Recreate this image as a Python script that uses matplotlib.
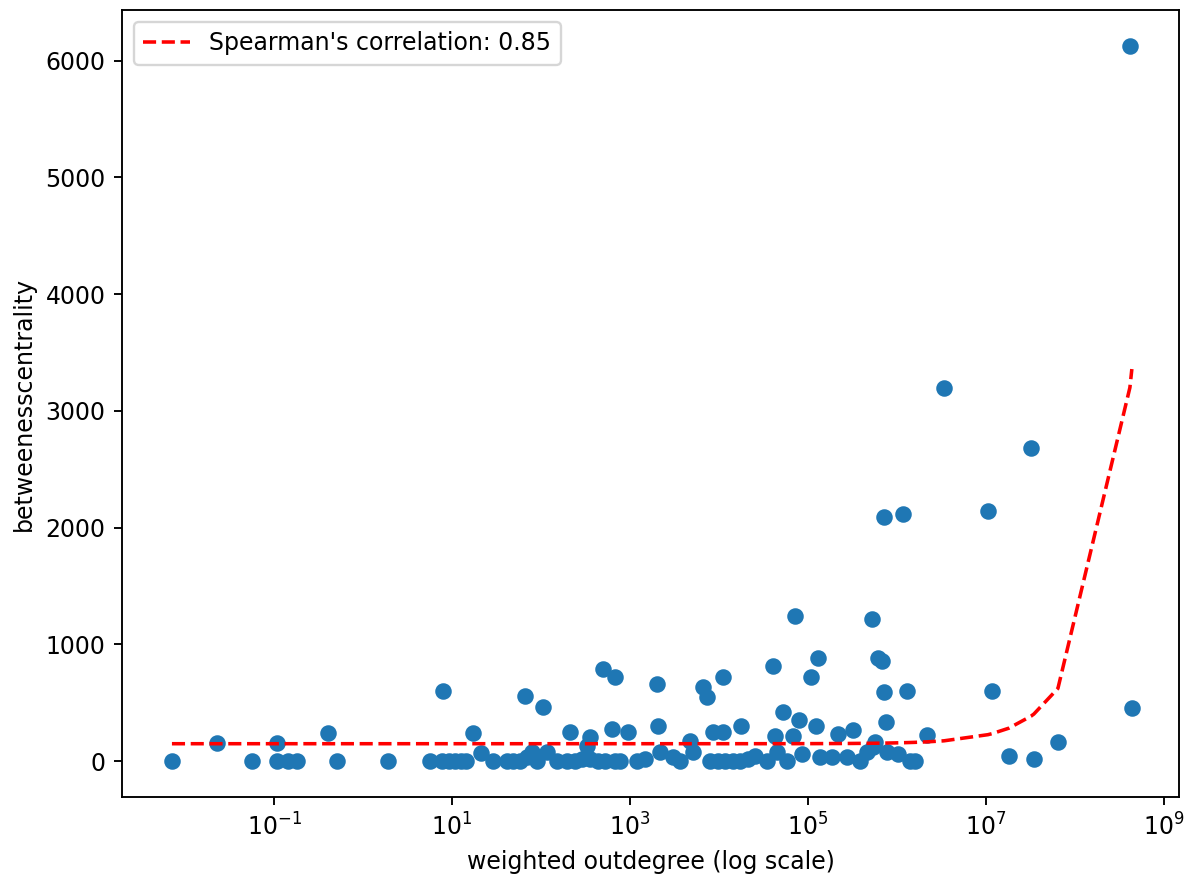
import numpy as np
import matplotlib.pyplot as plt

# weighted outdegree vs betweenness centrality
outdegree = [
    7.1e-3, 0.0229, 0.0566, 0.108, 0.108, 0.1435, 0.181, 0.405, 0.51, 1.91,
    5.66, 7.72, 7.93, 9.25, 10.8, 12.6, 14.4, 17.2, 21.2, 28.9,
    41.5, 48.4, 58.1, 66.1, 69.7, 79.3, 90.2, 105, 117, 151,
    196, 212, 241, 289, 329, 356, 356, 437, 498, 524,
    628, 678, 678, 773, 950, 1199, 1476, 2009, 2065, 2173,
    3041, 3648, 4721, 5105, 6607, 7328, 7925, 8570, 9750, 11090,
    11090, 11670, 14360, 17220, 17660, 21180, 25360, 34600, 40460, 42560,
    44870, 52360, 58070, 67770, 71450, 79250, 85700, 108100, 123000, 129400,
    136400, 186200, 217300, 274200, 320600, 383700, 460200, 523600, 537000, 566200,
    612300, 677700, 714500, 714500, 751600, 772700, 1.026e6, 1.167e6, 1.294e6, 1.400e6,
    1.592e6, 2.173e6, 3.373e6, 1.052e7, 1.167e7, 1.811e7, 3.206e7, 3.459e7, 6.442e7, 4.150e8,
    4.366e8,
]
betweenness = [
    0, 154, 0, 154, 0, 0, 0, 239, 0, 0,
    0, 0, 598, 0, 0, 0, 0, 239, 68, 0,
    0, 0, 0, 556, 34, 77, 0, 462, 77, 0,
    0, 248, 0, 17, 128, 205, 17, 0, 786, 0,
    274, 718, 0, 0, 248, 0, 17, 658, 299, 77,
    34, 0, 171, 77, 632, 547, 0, 248, 0, 718,
    248, 0, 0, 0, 299, 17, 43, 0, 812, 214,
    77, 419, 0, 214, 1248, 350, 60, 718, 299, 880,
    34, 34, 231, 34, 265, 0, 77, 1214, 120, 162,
    880, 855, 590, 2094, 333, 77, 60, 2120, 598, 0,
    0, 222, 3197, 2145, 598, 43, 2684, 17, 162, 6128,
    453,
]

# linear fit shown as the dashed line
fit_intercept = 150
fit_slope = 7.35e-6
spearman = 0.85

x = np.array(outdegree)
y = np.array(betweenness)
xs = np.sort(x)

fig = plt.figure(figsize=(1195 / 170, 881 / 170), dpi=170)
ax = fig.add_axes([122 / 1195, 1 - 797 / 881, (1179 - 122) / 1195, (797 - 10) / 881])

ax.scatter(x, y)
ax.plot(xs, fit_intercept + fit_slope * xs, 'r--',
        label=f"Spearman's correlation: {spearman:.2f}")
ax.set_xscale('log')
ax.set_xlim(10 ** -2.71, 10 ** 9.17)
ax.set_xlabel('weighted outdegree (log scale)')
ax.set_ylabel('betweenesscentrality')
ax.legend(loc='upper left')

fig.savefig('out.png', dpi=170)
